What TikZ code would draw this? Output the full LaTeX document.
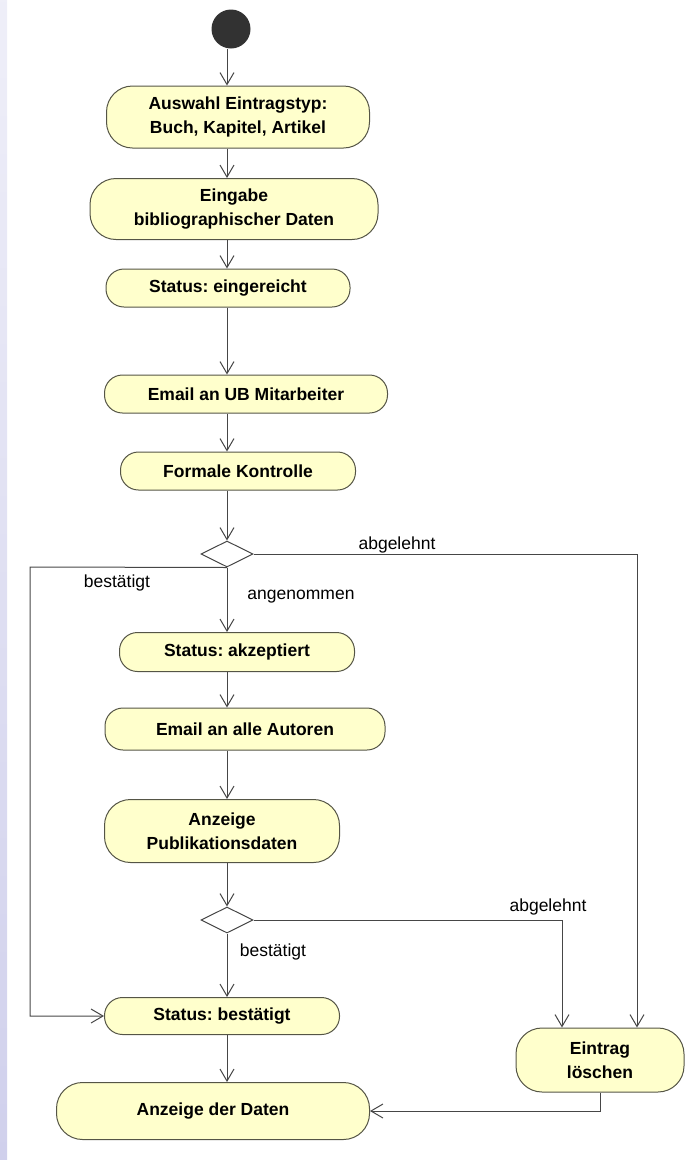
\documentclass[tikz,border=0pt]{standalone}
\usepackage{fontspec}
\setmainfont{Liberation Sans}
\usepackage{tikz}
\usetikzlibrary{arrows.meta,shapes.geometric}
\frenchspacing

\definecolor{aktgelb}{RGB}{255,255,204}
\definecolor{aktrand}{RGB}{85,85,70}
\definecolor{linie}{RGB}{70,70,70}
\definecolor{startgrau}{RGB}{50,50,50}
\definecolor{randlila}{RGB}{208,208,236}

\tikzset{
  aktion/.style={draw=aktrand, fill=aktgelb, rounded corners=18pt, inner sep=0pt,
    align=center, font=\fontsize{17.5}{24}\selectfont\bfseries},
  aktion2/.style={aktion, rounded corners=26pt},
  raute/.style={diamond, draw=linie, fill=white, minimum width=52pt,
    minimum height=26pt, inner sep=0pt},
  fluss/.style={draw=linie, -{Straight Barb[length=12pt,width=14pt]}},
  marke/.style={font=\fontsize{17.5}{20}\selectfont, inner sep=0pt},
}

\begin{document}
\begin{tikzpicture}[x=1pt, y=-1pt, line width=1pt]
      \useasboundingbox (0,0) rectangle (698,1160);
      \shade[top color=randlila!35, bottom color=randlila] (0,0) rectangle (7,1160);

      \coordinate (achse) at (227,0);
      \node [circle, fill=startgrau, minimum size=39pt, inner sep=0pt] (start) at (231,29) {};

      \begin{scope}
        \node [aktion2, minimum width=263pt, minimum height=62pt] (auswahl) at (238,117) {Auswahl Eintragstyp:\\Buch, Kapitel, Artikel};
        \node [aktion2, minimum width=288pt, minimum height=61pt] (eingabe) at (234,209) {Eingabe\\bibliographischer Daten};
        \node [aktion, minimum width=244pt, minimum height=38pt] (eingereicht) at (228,288) {Status: eingereicht};
        \node [aktion, minimum width=283pt, minimum height=38pt] (mailub) at (246,394) {Email an UB Mitarbeiter};
        \node [aktion, minimum width=235pt, minimum height=38pt] (kontrolle) at (238,471) {Formale Kontrolle};
        \node [raute] (raute1) at (227,554) {};
        \node [aktion, minimum width=235pt, minimum height=39pt] (akzeptiert) at (237,652) {Status: akzeptiert};
        \node [aktion, minimum width=280pt, minimum height=42pt] (mailautoren) at (245,729) {Email an alle Autoren};
        \node [aktion2, minimum width=235pt, minimum height=63pt] (anzeigepub) at (222,831) {Anzeige\\Publikationsdaten};
        \node [raute] (raute2) at (227,920) {};
        \node [aktion, minimum width=235pt, minimum height=37pt] (bestaetigt) at (222,1016) {Status: bestätigt};
        \node [aktion2, minimum width=168pt, minimum height=64pt] (loeschen) at (600,1060) {Eintrag\\löschen};
        \node [aktion2, minimum width=313pt, minimum height=57pt] (daten) at (213,1111) {Anzeige der Daten};
      \end{scope}

      % Beschriftungen
      \node [marke] (abgelehnt1) at (397,545) {abgelehnt};
      \node [marke] (bestaetigt1) at (117,583) {bestätigt};
      \node [marke] (angenommen) at (301,597) {angenommen};
      \node [marke] (abgelehnt2) at (548,907) {abgelehnt};
      \node [marke] (bestaetigt2) at (273,952) {bestätigt};

      \coordinate (links) at (30,567);

      \draw [fluss] (start.south -| achse) -- (auswahl.north -| achse);
      \draw [fluss] (auswahl.south -| achse) -- (eingabe.north -| achse);
      \draw [fluss] (eingabe.south -| achse) -- (eingereicht.north -| achse);
      \draw [fluss] (eingereicht.south -| achse) -- (mailub.north -| achse);
      \draw [fluss] (mailub.south -| achse) -- (kontrolle.north -| achse);
      \draw [fluss] (kontrolle.south -| achse) -- (raute1.north);
      \draw [fluss] (raute1.east) -| ([xshift=37pt]loeschen.north);
      \draw [fluss] (raute1.south) -- (links) |- (bestaetigt.west);
      \draw [fluss] (raute1.south) -- (akzeptiert.north -| achse);
      \draw [fluss] (akzeptiert.south -| achse) -- (mailautoren.north -| achse);
      \draw [fluss] (mailautoren.south -| achse) -- (anzeigepub.north -| achse);
      \draw [fluss] (anzeigepub.south -| achse) -- (raute2.north);
      \draw [fluss] (raute2.east) -| ([xshift=-38pt]loeschen.north);
      \draw [fluss] (raute2.south) -- (bestaetigt.north -| achse);
      \draw [fluss] (bestaetigt.south -| achse) -- (daten.north -| achse);
      \draw [fluss] (loeschen.south) |- (daten.east);
    \end{tikzpicture}
\end{document}
